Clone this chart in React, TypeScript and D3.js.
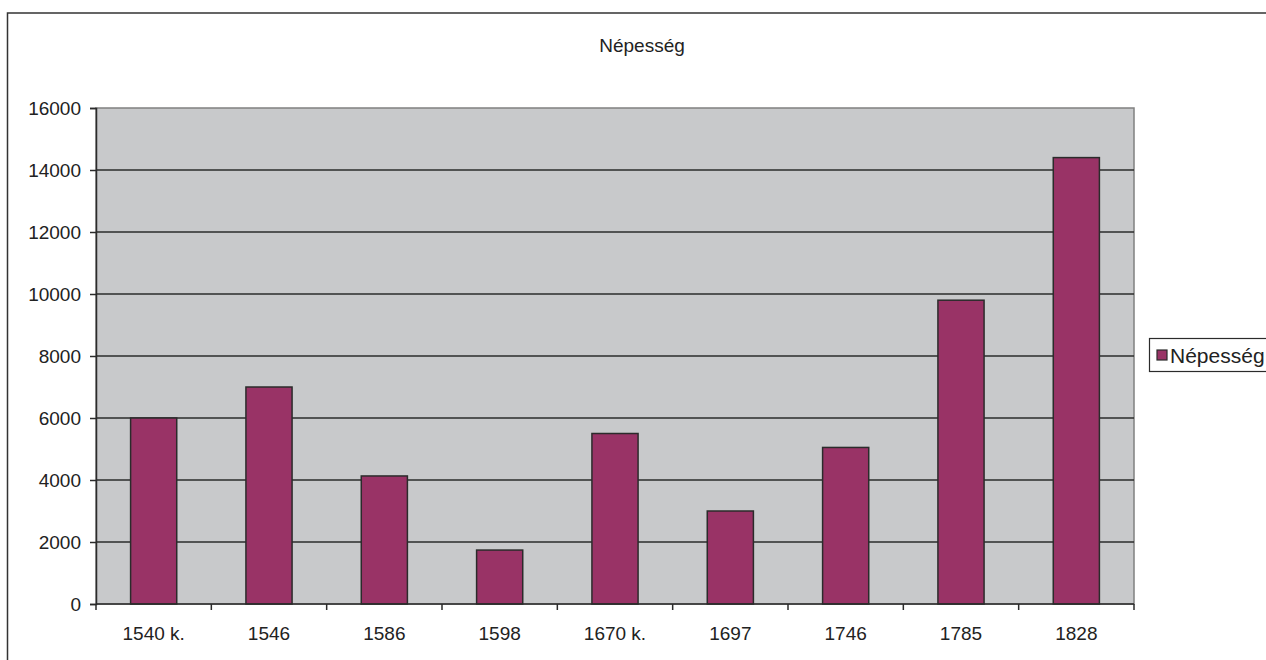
import React, { useEffect, useRef } from 'react';
import * as d3 from 'd3';

// data
const years = ["1540 k.", "1546", "1586", "1598", "1670 k.", "1697", "1746", "1785", "1828"];
const population = [6000, 7000, 4130, 1740, 5500, 3000, 5050, 9800, 14400];
const yTicks = [0, 2000, 4000, 6000, 8000, 10000, 12000, 14000, 16000];
const seriesName = "Népesség";

export default function App() {
    const ref = useRef<SVGSVGElement>(null);

    const width = 1266;
    const height = 660;
    const plot = { left: 96, right: 1134, top: 108, bottom: 604 };
    const font = "'Liberation Sans', Arial, sans-serif";
    const fontSize = 19;

    useEffect(() => {
        document.body.style.margin = "0";
        const svg = d3.select(ref.current);
        svg.selectAll("*").remove();

        // outer chart frame (runs off the right and bottom of the page)
        svg.append("rect")
            .attr("x", 7.5).attr("y", 13)
            .attr("width", 1300).attr("height", 700)
            .attr("fill", "white")
            .attr("stroke", "#333").attr("stroke-width", 1.5);

        const x = d3.scaleBand()
            .domain(years)
            .range([plot.left, plot.right])
            .paddingInner(0.6)
            .paddingOuter(0.3);

        // boundaries between categories, for the tick marks
        const xEdge = d3.scaleLinear()
            .domain([0, years.length])
            .range([plot.left, plot.right]);

        const y = d3.scaleLinear()
            .domain([0, 16000])
            .range([plot.bottom, plot.top]);

        // plot area background
        svg.append("rect")
            .attr("x", plot.left).attr("y", plot.top)
            .attr("width", plot.right - plot.left)
            .attr("height", plot.bottom - plot.top)
            .attr("fill", "#c8c9cb")
            .attr("stroke", "#808080").attr("stroke-width", 1.5);

        // gridlines
        svg.append("g")
            .selectAll("line")
            .data(yTicks.filter(d => d > 0 && d < 16000))
            .join("line")
                .attr("x1", plot.left).attr("x2", plot.right)
                .attr("y1", d => y(d)).attr("y2", d => y(d))
                .attr("stroke", "#2b2b2b").attr("stroke-width", 1.5);

        // bars
        svg.append("g")
            .selectAll("rect")
            .data(population)
            .join("rect")
                .attr("x", (d, i) => x(years[i])!)
                .attr("y", d => y(d))
                .attr("width", x.bandwidth())
                .attr("height", d => y(0) - y(d))
                .attr("fill", "#993366")
                .attr("stroke", "#2b2b2b").attr("stroke-width", 1.5);

        // y axis
        const yAxis = svg.append("g")
            .attr("transform", `translate(${plot.left}, 0)`)
            .call(d3.axisLeft(y).tickValues(yTicks).tickSize(6).tickPadding(9).tickFormat(d3.format("d")));
        yAxis.select(".domain").attr("stroke", "#2b2b2b").attr("stroke-width", 1.5);
        yAxis.selectAll(".tick line").attr("stroke", "#2b2b2b").attr("stroke-width", 1.5);
        yAxis.selectAll("text")
            .attr("font-family", font).attr("font-size", fontSize).attr("fill", "#222");

        // x axis line + tick marks at category edges
        svg.append("line")
            .attr("x1", plot.left).attr("x2", plot.right)
            .attr("y1", plot.bottom).attr("y2", plot.bottom)
            .attr("stroke", "#2b2b2b").attr("stroke-width", 1.5);
        svg.append("g")
            .selectAll("line")
            .data(d3.range(years.length + 1))
            .join("line")
                .attr("x1", d => xEdge(d)).attr("x2", d => xEdge(d))
                .attr("y1", plot.bottom).attr("y2", plot.bottom + 6)
                .attr("stroke", "#2b2b2b").attr("stroke-width", 1.5);
        svg.append("g")
            .selectAll("text")
            .data(years)
            .join("text")
                .attr("x", d => x(d)! + x.bandwidth() / 2)
                .attr("y", 640)
                .attr("text-anchor", "middle")
                .attr("font-family", font).attr("font-size", fontSize).attr("fill", "#222")
                .text(d => d);

        // title
        svg.append("text")
            .attr("x", 642).attr("y", 52)
            .attr("text-anchor", "middle")
            .attr("font-family", font).attr("font-size", fontSize).attr("fill", "#222")
            .text(seriesName);

        // legend (cut off on the right)
        const legend = svg.append("g");
        legend.append("rect")
            .attr("x", 1149.5).attr("y", 338.5)
            .attr("width", 140).attr("height", 33)
            .attr("fill", "white")
            .attr("stroke", "#2b2b2b").attr("stroke-width", 1.2);
        legend.append("rect")
            .attr("x", 1157).attr("y", 350)
            .attr("width", 10).attr("height", 10)
            .attr("fill", "#993366")
            .attr("stroke", "#2b2b2b").attr("stroke-width", 1.2);
        legend.append("text")
            .attr("x", 1170).attr("y", 362.5)
            .attr("font-family", font).attr("font-size", 21).attr("fill", "#222")
            .text(seriesName);
    }, []);

    return (
        <svg ref={ref} width={width} height={height}
            style={{ position: "absolute", left: 0, top: 0, display: "block" }} />
    );
}
